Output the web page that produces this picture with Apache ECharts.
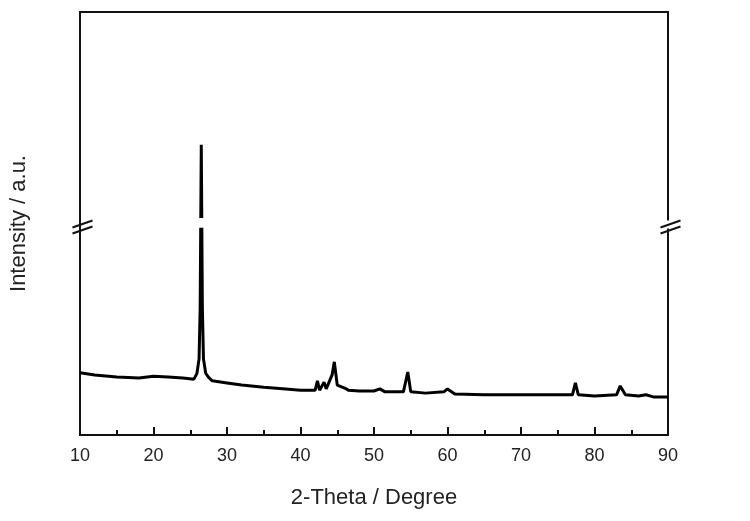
<!DOCTYPE html>
<html><head><meta charset="utf-8">
<script src="https://cdn.jsdelivr.net/npm/echarts@6/dist/echarts.min.js"></script>
<style>body{margin:0;background:#fff}#c{width:750px;height:521px}</style>
</head><body><div id="c"></div>
<script>
// 2-theta positions and intensity (arbitrary units)
const twoTheta = [10,12,15,18,20,22,24,25.5,25.9,26.2,26.35,26.5,26.65,26.8,27.1,27.5,28,30,32,35,38,40,42,42.3,42.6,43.2,43.5,44.3,44.6,45,46,46.5,48,50,50.8,51.5,54,54.6,55,57,59.5,60,61,65,70,75,77,77.4,77.8,80,83,83.5,84.2,86,87,88,90];
const intensity = [14.7,14.2,13.7,13.5,13.9,13.7,13.5,13.2,14.5,18,30,68.6,30,18,14.6,13.6,12.8,12.3,11.8,11.3,10.9,10.6,10.6,12.8,10.6,12.5,10.9,14.2,17.3,11.8,11.1,10.6,10.4,10.4,10.9,10.2,10.2,14.9,10.2,9.9,10.2,10.9,9.7,9.5,9.5,9.5,9.5,12.3,9.5,9.2,9.5,11.6,9.5,9.2,9.5,9.0,9.0];
const xTicks = [10,20,30,40,50,60,70,80,90];

const chart = echarts.init(document.getElementById('c'));
const breakMark = (x) => ({
  type: 'group', left: x - 10, top: 218, z: 100,
  children: [
    {type:'rect', shape:{x:0,y:5,width:20,height:8}, style:{fill:'#fff'}},
    {type:'line', shape:{x1:0,y1:12,x2:20,y2:5}, style:{stroke:'#111',lineWidth:2}},
    {type:'line', shape:{x1:0,y1:18,x2:20,y2:11}, style:{stroke:'#111',lineWidth:2}}
  ]
});
chart.setOption({
  animation: false,
  grid: {left: 80, right: 82, top: 12, bottom: 86, show: true, borderColor: '#111', borderWidth: 2},
  xAxis: {
    type: 'value', min: 10, max: 90, interval: 10,
    name: '2-Theta / Degree', nameLocation: 'middle', nameGap: 52,
    nameTextStyle: {fontSize: 22, color: '#222', fontFamily: 'Liberation Sans'},
    axisLine: {lineStyle: {color: '#111', width: 2}},
    axisTick: {inside: true, length: 8, lineStyle: {color: '#111', width: 2}},
    minorTick: {show: true, splitNumber: 2, length: 5, lineStyle: {color: '#111', width: 2}},
    axisLabel: {fontSize: 18, color: '#222', margin: 12, fontFamily: 'Liberation Sans',
      formatter: v => xTicks.includes(v) ? String(v) : ''},
    splitLine: {show: false}
  },
  yAxis: {
    type: 'value', min: 0, max: 100,
    name: 'Intensity / a.u.', nameLocation: 'middle', nameGap: 50,
    nameTextStyle: {fontSize: 22, color: '#222', fontFamily: 'Liberation Sans'},
    axisLine: {lineStyle: {color: '#111', width: 2}},
    axisTick: {show: false}, axisLabel: {show: false}, splitLine: {show: false}
  },
  series: [{
    type: 'line', data: twoTheta.map((t, i) => [t, intensity[i]]),
    symbol: 'none', lineStyle: {color: '#000', width: 3}
  }, {
    type: 'line', data: [], z: 10,
    markArea: {silent: true, z: 10, itemStyle: {color: '#fff'},
      data: [[{coord: [25.5, 49]}, {coord: [27.5, 51.3]}]]}
  }],
  graphic: [breakMark(80), breakMark(668)]
});
</script></body></html>
